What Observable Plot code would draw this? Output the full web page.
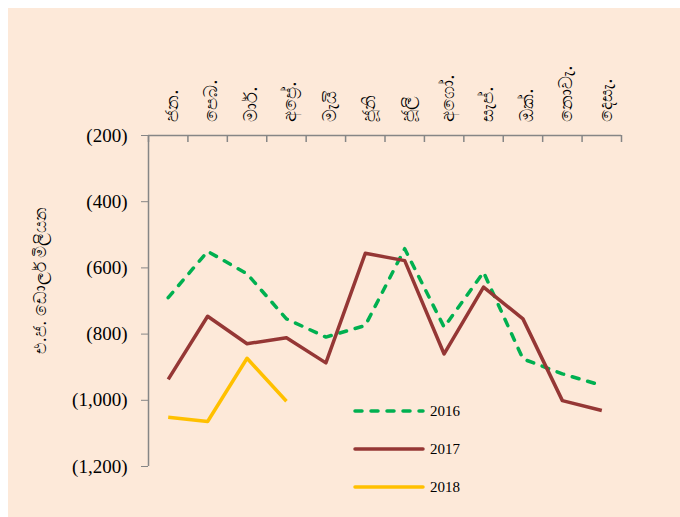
<!DOCTYPE html>
<html><head><meta charset="utf-8">
<script src="https://cdn.jsdelivr.net/npm/d3@7"></script>
<script src="https://cdn.jsdelivr.net/npm/@observablehq/plot@0.6"></script>
<style>
body{margin:0;background:#fff;}
#wrap{position:absolute;left:8px;top:8px;width:672px;height:509px;background:#fde9d9;overflow:hidden;}
#wrap svg text{fill:#000;}
#legend{position:absolute;left:337px;top:385px;}
</style></head><body><div id="wrap"></div>
<script>
// ---- data ----
const months = ["ජන.","පෙබ.","මාර්.","අප්‍රේ.","මැයි","ජූනි","ජූලි","අගෝ.","සැප්.","ඔක්.","නොවැ.","දෙසැ."];
const years = ["2016","2017","2018"];
const v2016 = [-690,-550,-618,-754,-809,-774,-542,-779,-613,-875,-920,-955];
const v2017 = [-937,-746,-829,-811,-887,-556,-578,-860,-658,-754,-1001,-1031];
const v2018 = [-1051,-1064,-873,-1003];
const yTicks = [-200,-400,-600,-800,-1000,-1200];
const yTitle = "එ.ජ. ඩොලර් මිලියන";

// ---- styles ----
const colors = {"2016":"#00b050","2017":"#953735","2018":"#ffc000"};
const dashes = {"2016":"7,9","2017":null,"2018":null};
const gray = "#868686";
const serif = "'Liberation Serif', 'DejaVu Serif', serif";

const valuesByYear = {"2016":v2016,"2017":v2017,"2018":v2018};
const rows = years.flatMap(yr => valuesByYear[yr].map((v,i)=>({year:yr, x:i+0.5, v})));
const monthData = months.map((m,i)=>({m, x:i+0.5}));
const bounds = d3.range(months.length+1);

const lineMarks = years.map(yr => Plot.line(rows.filter(r=>r.year===yr), {
  x:"x", y:"v", stroke: colors[yr], strokeWidth:3.5,
  strokeDasharray: dashes[yr] || undefined, strokeLinecap: dashes[yr] ? "round" : "butt", strokeLinejoin:"round"
}));

const plot = Plot.plot({
  width: 672, height: 509,
  marginLeft: 140, marginTop: 127, marginRight: 59, marginBottom: 51,
  style: {background:"transparent", color: gray, fontFamily: serif, fontSize:"19px", overflow:"visible"},
  x: {domain:[0, months.length], axis:null},
  y: {domain:[-1200,-200], ticks: yTicks, tickFormat: d => "(" + d3.format(",")(-d) + ")", tickSize:7, tickPadding:14, label:null},
  marks: [
    Plot.ruleY([-200], {stroke: gray, strokeWidth:1.5}),
    Plot.ruleX([0], {stroke: gray, strokeWidth:1.5}),
    Plot.ruleX(bounds, {x: d=>d, y1: -200, y2: -200, insetBottom: -7, stroke: gray, strokeWidth:1.5}),
    Plot.text(monthData, {x:"x", y: () => -200, text:"m", rotate:-90, textAnchor:"start", dy:-14, dx:4, fontSize:18, fontFamily:"'Noto Sans', sans-serif"}),
    Plot.text([yTitle], {frameAnchor:"left", rotate:-90, dx:-108, dy:53, fontSize:17, fontFamily:"'Noto Sans', sans-serif"}),
    ...lineMarks
  ]
});
document.getElementById("wrap").appendChild(plot);

// legend (overlay inside the chart area)
const leg = d3.select("#wrap").append("svg").attr("id","legend").attr("width",140).attr("height",110);
years.forEach((yr,k) => {
  const g = leg.append("g").attr("transform", `translate(0,${18 + k*38})`);
  g.append("line").attr("x1",10).attr("x2",78).attr("y1",0).attr("y2",0)
    .attr("stroke",colors[yr]).attr("stroke-width",3.5)
    .attr("stroke-dasharray", dashes[yr]).attr("stroke-linecap","round");
  g.append("text").attr("x",85).attr("y",5).text(yr)
    .style("font-family",serif).style("font-size","15px").style("fill","#000");
});
</script>
</body></html>
